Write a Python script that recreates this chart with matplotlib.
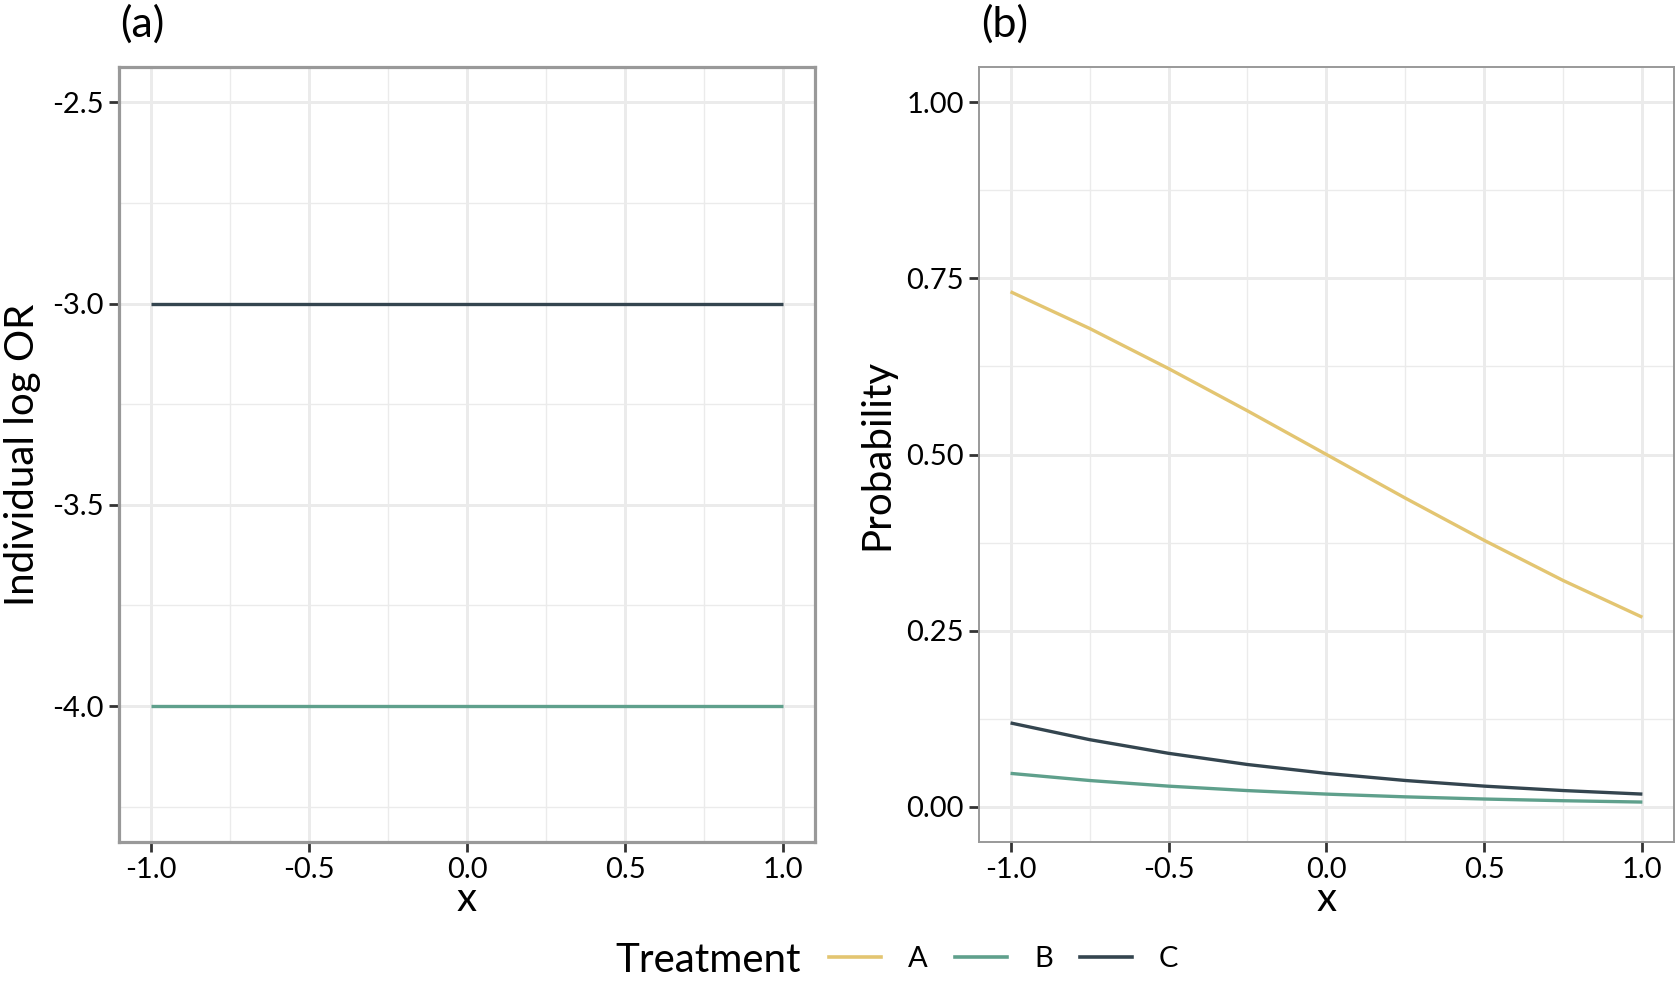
import numpy as np
import matplotlib.pyplot as plt
from matplotlib.lines import Line2D
from matplotlib.ticker import MultipleLocator

plt.rcParams['font.family'] = ['Lato', 'DejaVu Sans']

# data
treatments = ['A', 'B', 'C']
colors = {'A': '#E3C571', 'B': '#5FA08C', 'C': '#34454F'}

# panel (a): individual log OR (A lies outside the shown range)
x_a = [-1.0, 1.0]
logor_B = [-4.0, -4.0]
logor_C = [-3.0, -3.0]

# panel (b): probability vs x
x_b = [-1.0, -0.75, -0.5, -0.25, 0.0, 0.25, 0.5, 0.75, 1.0]
prob_A = [0.731, 0.679, 0.622, 0.562, 0.500, 0.438, 0.378, 0.321, 0.269]
prob_B = [0.0474, 0.0373, 0.0293, 0.0230, 0.0180, 0.0141, 0.0110, 0.0086, 0.0067]
prob_C = [0.119, 0.0953, 0.0759, 0.0600, 0.0474, 0.0373, 0.0293, 0.0230, 0.0180]

xticks = [-1.0, -0.5, 0.0, 0.5, 1.0]
yticks_a = [-4.0, -3.5, -3.0, -2.5]
yticks_b = [0.00, 0.25, 0.50, 0.75, 1.00]

fig = plt.figure(figsize=(16.76, 9.84), dpi=100)
ax1 = fig.add_axes([0.071, 0.1443, 0.4153, 0.7876])
ax2 = fig.add_axes([0.5841, 0.1443, 0.4147, 0.7876])

def style(ax, frame_lw):
    ax.set_facecolor('white')
    ax.grid(which='major', color='#EBEBEB', lw=2.1, zorder=0)
    ax.grid(which='minor', color='#EBEBEB', lw=1.0, zorder=0)
    ax.set_axisbelow(True)
    for s in ax.spines.values():
        s.set_color('#999999')
        s.set_linewidth(frame_lw)
    ax.tick_params(which='major', length=7, width=2, color='#333333',
                   labelsize=21, labelcolor='black', pad=4)
    ax.tick_params(which='minor', length=0)
    ax.set_xlim(-1.1, 1.1)
    ax.set_xticks(xticks)
    ax.set_xticklabels(['%.1f' % v for v in xticks])
    ax.xaxis.set_minor_locator(MultipleLocator(0.25))
    ax.set_xlabel('x', fontsize=29, labelpad=-2)

style(ax1, 2.3)
ax1.plot(x_a, logor_B, color=colors['B'], lw=2.4, solid_capstyle='butt')
ax1.plot(x_a, logor_C, color=colors['C'], lw=2.4, solid_capstyle='butt')
ax1.set_ylim(-4.3375, -2.4125)
ax1.set_yticks(yticks_a)
ax1.set_yticklabels(['%.1f' % v for v in yticks_a])
ax1.yaxis.set_minor_locator(MultipleLocator(0.25))
ax1.set_ylabel('Individual log OR', fontsize=29, labelpad=8)

style(ax2, 1.4)
for t, p in zip(treatments, [prob_A, prob_B, prob_C]):
    ax2.plot(x_b, p, color=colors[t], lw=2.4, solid_capstyle='butt')
ax2.set_ylim(-0.05, 1.05)
ax2.set_yticks(yticks_b)
ax2.set_yticklabels(['%.2f' % v for v in yticks_b])
ax2.yaxis.set_minor_locator(MultipleLocator(0.125))
ax2.set_ylabel('Probability', fontsize=29, labelpad=8)

fig.text(0.0715, 0.976, '(a)', fontsize=31, ha='left', va='center')
fig.text(0.5855, 0.976, '(b)', fontsize=31, ha='left', va='center')

handles = [Line2D([], [], color=colors[t], lw=2.6) for t in treatments]
fig.legend(handles, treatments, ncol=3, loc='center left', bbox_to_anchor=(0.4946, 0.025),
           frameon=False, fontsize=21, handlelength=1.78, handletextpad=0.93,
           columnspacing=0.93, borderpad=0, borderaxespad=0)
fig.text(0.478, 0.012, 'Treatment', fontsize=29, ha='right', va='baseline')

fig.savefig('out.png', dpi=100)
